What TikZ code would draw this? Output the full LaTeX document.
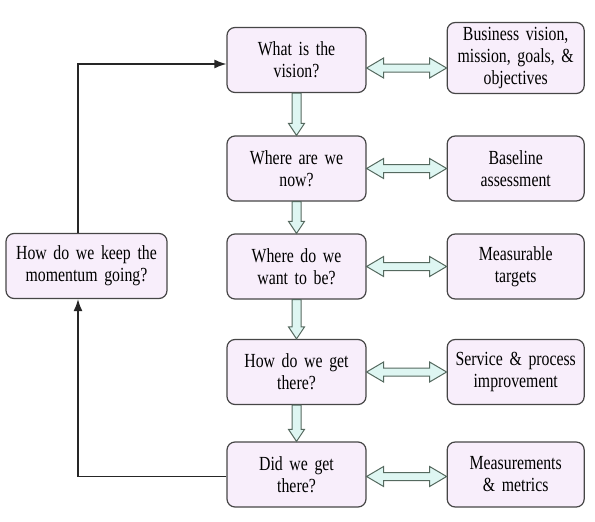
\documentclass[tikz,border=0pt]{standalone}
\usepackage{fontspec}
\setmainfont{Liberation Serif}[FakeStretch=0.79]
\usetikzlibrary{positioning, calc, arrows.meta}
\tikzset{>={Latex[length=12pt,width=9pt]}}
\definecolor{boxfill}{RGB}{248,238,251}
\definecolor{boxline}{RGB}{70,70,70}
\definecolor{arrowfill}{RGB}{222,246,242}
\definecolor{arrowline}{RGB}{85,105,95}
\tikzset{
  question/.style={draw=boxline, fill=boxfill, line width=1.2pt, rounded corners=8pt,
    minimum width=139pt, minimum height=65pt, text width=132pt, align=center,
    inner sep=2pt, font=\fontsize{20}{22}\selectfont},
  answer/.style={question, minimum width=137pt, text width=130pt},
  hollow/.style={draw=arrowline, fill=arrowfill, line width=1pt, line join=miter},
}
% hollow arrow going down from #1 to #2
\newcommand{\downhollow}[2]{%
  \draw[hollow] let \p1=(#1.south), \p2=(#2.north) in
    (\x1-4.5pt,\y1) -- (\x1-4.5pt,\y2+12pt) -- (\x1-8pt,\y2+12pt) -- (\x1,\y2)
    -- (\x1+8pt,\y2+12pt) -- (\x1+4.5pt,\y2+12pt) -- (\x1+4.5pt,\y1) -- cycle;}
% hollow arrow with two heads from #1 to #2
\newcommand{\bothhollow}[2]{%
  \draw[hollow] let \p1=(#1), \p2=(#2) in
    (\x1,\y1) -- (\x1+17pt,\y1+10pt) -- (\x1+17pt,\y1+4pt) -- (\x2-17pt,\y1+4pt)
    -- (\x2-17pt,\y1+10pt) -- (\x2,\y1) -- (\x2-17pt,\y1-10pt) -- (\x2-17pt,\y1-4pt)
    -- (\x1+17pt,\y1-4pt) -- (\x1+17pt,\y1-10pt) -- cycle;}

\begin{document}
\begin{tikzpicture}[x=1pt, y=-1pt]
  \useasboundingbox (0,0) rectangle (595,522);

  % questions
  \node[question] (v1) at (296.5,60) {What is the\\vision?};
  \node[question] (v2) at (296.5,168.5) {Where are we\\now?};
  \node[question] (v3) at (296.5,266.5) {Where do we\\want to be?};
  \node[question] (v4) at (296.5,372) {How do we get\\there?};
  \node[question] (v5) at (296.5,474.5) {Did we get\\there?};
  \node[question, minimum width=161pt, text width=154pt] (keep) at (86.5,266) {How do we keep the\\momentum going?};

  % answers
  \node[answer, minimum height=71pt, right=80pt of v1, yshift=2pt] (a1) {Business vision,\\mission, goals, \&\\objectives};
  \node[answer, right=80pt of v2] (a2) {Baseline\\assessment};
  \node[answer, right=80pt of v3] (a3) {Measurable\\targets};
  \node[answer, right=80pt of v4] (a4) {Service \& process\\improvement};
  \node[answer, right=80pt of v5] (a5) {Measurements\\\& metrics};

  \downhollow{v1}{v2}
  \downhollow{v2}{v3}
  \downhollow{v3}{v4}
  \downhollow{v4}{v5}

  \bothhollow{[yshift=-8pt]v1.east}{a1.west}
  \bothhollow{v2.east}{a2.west}
  \bothhollow{v3.east}{a3.west}
  \bothhollow{v4.east}{a4.west}
  \bothhollow{[yshift=-2pt]v5.east}{a5.west}

  \draw[->, line width=1.4pt, draw=black!85] ([xshift=-8.5pt]keep.north) |- ([yshift=-4pt]v1.west);
  \draw[->, line width=1.4pt, draw=black!85] ([yshift=-2pt]v5.west) -| ([xshift=-8.5pt]keep.south);
\end{tikzpicture}
\end{document}
